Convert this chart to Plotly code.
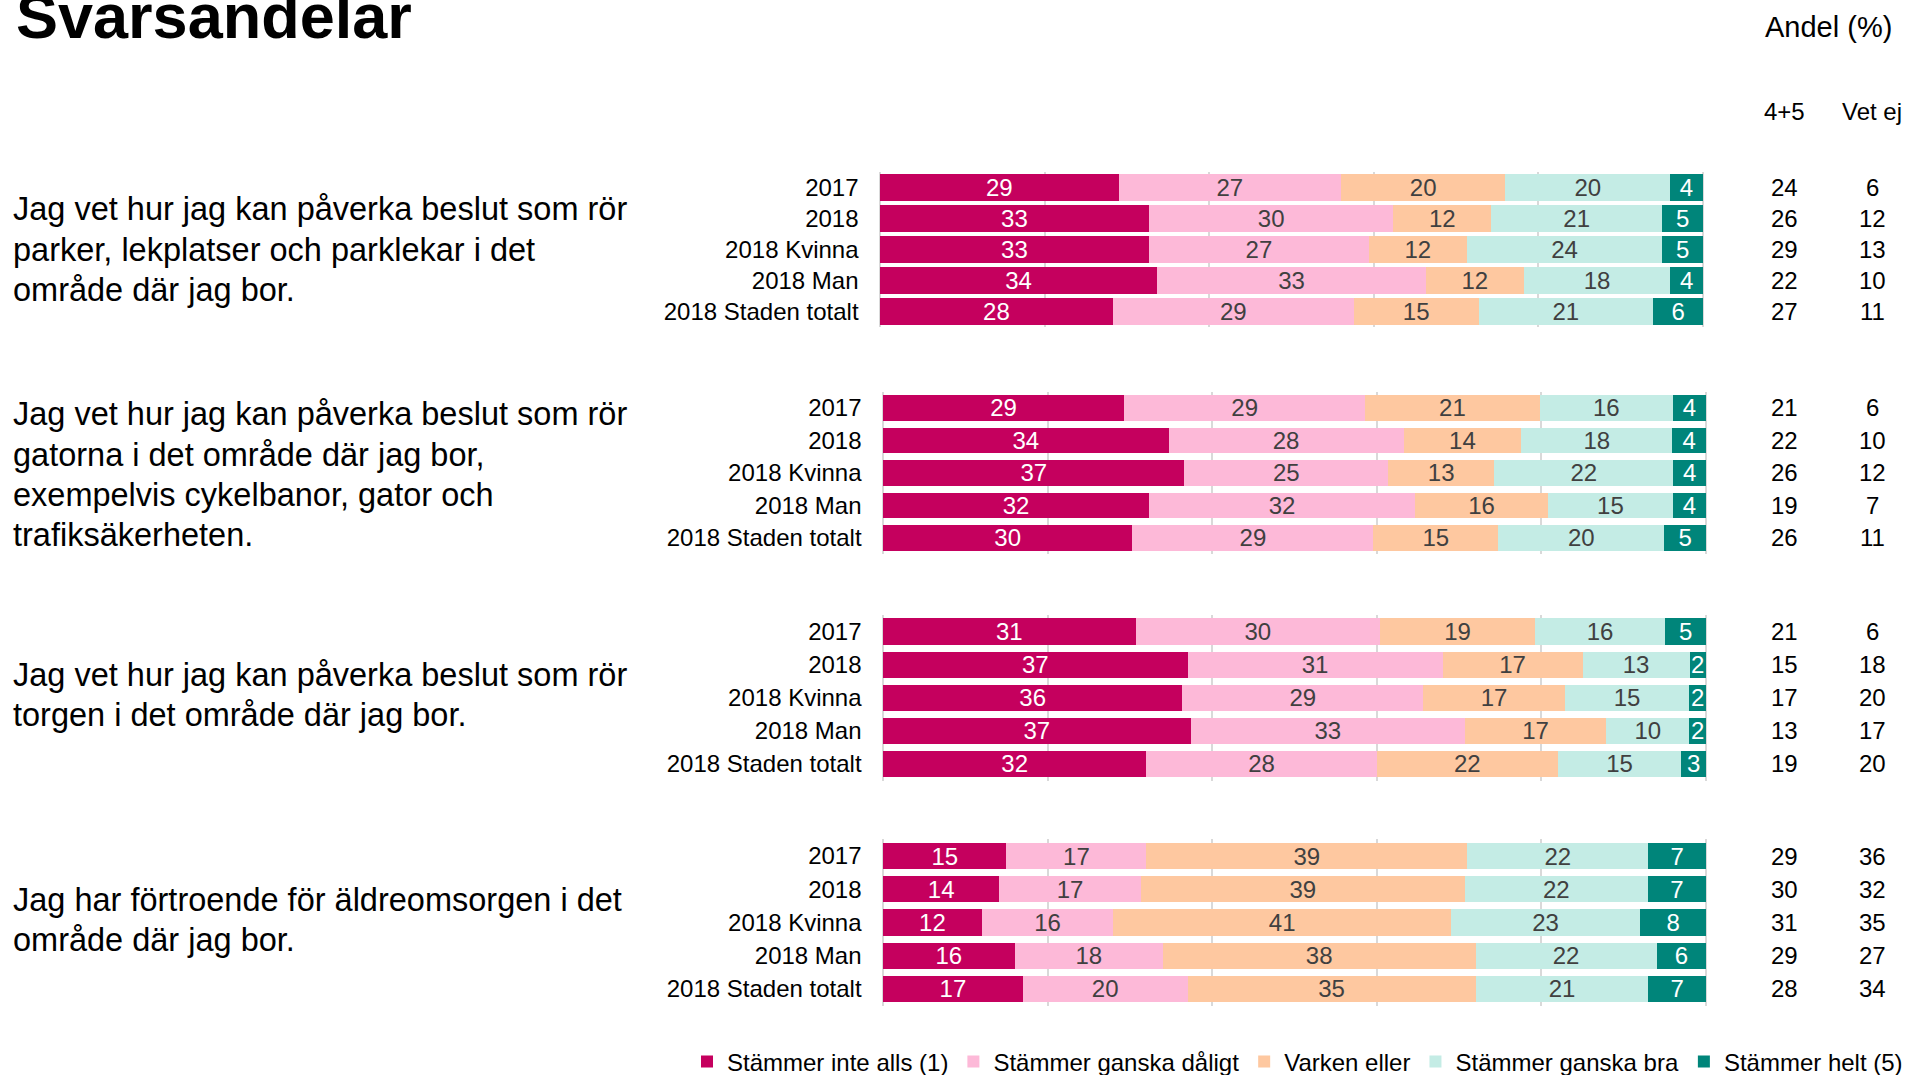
import plotly.graph_objects as go

W, H = 1908, 1075

categories = ["2017", "2018", "2018 Kvinna", "2018 Man", "2018 Staden totalt"]
series_names = ["Stämmer inte alls (1)", "Stämmer ganska dåligt", "Varken eller",
                "Stämmer ganska bra", "Stämmer helt (5)"]
series_colors = ["#C5005E", "#FDB9D8", "#FEC8A0", "#C4ECE5", "#00857A"]
label_colors = ["#FFFFFF", "#404040", "#404040", "#404040", "#FFFFFF"]

q1_lines = ["Jag vet hur jag kan påverka beslut som rör", "parker, lekplatser och parklekar i det",
            "område där jag bor."]
q2_lines = ["Jag vet hur jag kan påverka beslut som rör", "gatorna i det område där jag bor,",
            "exempelvis cykelbanor, gator och", "trafiksäkerheten."]
q3_lines = ["Jag vet hur jag kan påverka beslut som rör", "torgen i det område där jag bor."]
q4_lines = ["Jag har förtroende för äldreomsorgen i det", "område där jag bor."]

# rows: one per category, values per series
q1_rows = [[29, 27, 20, 20, 4], [33, 30, 12, 21, 5], [33, 27, 12, 24, 5], [34, 33, 12, 18, 4], [28, 29, 15, 21, 6]]
q2_rows = [[29, 29, 21, 16, 4], [34, 28, 14, 18, 4], [37, 25, 13, 22, 4], [32, 32, 16, 15, 4], [30, 29, 15, 20, 5]]
q3_rows = [[31, 30, 19, 16, 5], [37, 31, 17, 13, 2], [36, 29, 17, 15, 2], [37, 33, 17, 10, 2], [32, 28, 22, 15, 3]]
q4_rows = [[15, 17, 39, 22, 7], [14, 17, 39, 22, 7], [12, 16, 41, 23, 8], [16, 18, 38, 22, 6], [17, 20, 35, 21, 7]]

q1_sum45 = [24, 26, 29, 22, 27]
q2_sum45 = [21, 22, 26, 19, 26]
q3_sum45 = [21, 15, 17, 13, 19]
q4_sum45 = [29, 30, 31, 29, 28]

q1_vetej = [6, 12, 13, 10, 11]
q2_vetej = [6, 10, 12, 7, 11]
q3_vetej = [6, 18, 20, 17, 20]
q4_vetej = [36, 32, 35, 27, 34]

all_lines = [q1_lines, q2_lines, q3_lines, q4_lines]
all_rows = [q1_rows, q2_rows, q3_rows, q4_rows]
all_sum45 = [q1_sum45, q2_sum45, q3_sum45, q4_sum45]
all_vetej = [q1_vetej, q2_vetej, q3_vetej, q4_vetej]

FONT = "Liberation Sans, Arial, sans-serif"
panel_px = [  # (top, bottom, x of 0%, x of 100%)
    (172.0, 327.0, 880, 1703),
    (391.75, 554.0, 883, 1706),
    (615.0, 780.5, 883, 1706),
    (839.4, 1005.6, 883, 1706),
]
bar_widths = [0.85, 0.79, 0.79, 0.79]
line_px = [[207, 248, 288], [412.5, 452.6, 492.8, 533], [673, 713], [898, 938]]
PAD = 0.2

fig = go.Figure()
layout_axes = {}
annotations = []

for p in range(4):
    sfx = "" if p == 0 else str(p + 1)
    xa, ya = "x" + sfx, "y" + sfx
    rows = all_rows[p]
    for s in range(5):
        vals = [rows[c][s] for c in range(len(categories))]
        fig.add_trace(go.Bar(
            x=vals, y=categories, orientation="h",
            name=series_names[s], legendgroup=series_names[s], showlegend=(p == 0),
            marker=dict(color=series_colors[s], line=dict(width=0)),
            width=bar_widths[p],
            text=[str(v) for v in vals], textposition="inside", insidetextanchor="middle",
            textangle=0, constraintext="none",
            textfont=dict(color=label_colors[s], size=24, family=FONT),
            hoverinfo="skip",
            xaxis=xa, yaxis=ya,
        ))
    top, bot, x0, x100 = panel_px[p]
    unit = (x100 - x0) / 100.0
    dx0 = (x0 - PAD * unit) / W
    dx1 = (x100 + PAD * unit) / W
    layout_axes["xaxis" + sfx] = dict(
        domain=[dx0, dx1], range=[-PAD, 100 + PAD], anchor=ya,
        showticklabels=False, showgrid=True, gridcolor="#D9D9D9", gridwidth=2,
        tick0=0, dtick=20, zeroline=False, showline=False, fixedrange=True,
    )
    layout_axes["yaxis" + sfx] = dict(
        domain=[1 - bot / H, 1 - top / H], anchor=xa,
        type="category", categoryorder="array", categoryarray=categories,
        range=[len(categories) - 0.5, -0.5], autorange=False,
        showgrid=False, zeroline=False, showline=False,
        ticks="outside", ticklen=14, tickcolor="rgba(0,0,0,0)",
        tickfont=dict(size=24, color="#000000", family=FONT), fixedrange=True,
    )
    # question text, one annotation per line
    for li, line in enumerate(all_lines[p]):
        annotations.append(dict(
            text=line, xref="paper", yref="paper", x=11 / W, y=1 - (line_px[p][li] + 2) / H,
            xanchor="left", yanchor="middle", align="left", showarrow=False,
            font=dict(size=32.5, color="#000000", family=FONT),
        ))
    # right columns (category index on the subplot's y axis)
    for c in range(len(categories)):
        annotations.append(dict(
            text=str(all_sum45[p][c]), xref="paper", yref=ya, x=1784 / W, y=c,
            xanchor="center", yanchor="middle", showarrow=False,
            font=dict(size=24, color="#000000", family=FONT),
        ))
        annotations.append(dict(
            text=str(all_vetej[p][c]), xref="paper", yref=ya, x=1872 / W, y=c,
            xanchor="center", yanchor="middle", showarrow=False,
            font=dict(size=24, color="#000000", family=FONT),
        ))

# headers
annotations.append(dict(text="<b>Svarsandelar</b>", xref="paper", yref="paper", x=14 / W, y=1 - 16 / H,
                        xanchor="left", yanchor="middle", showarrow=False,
                        font=dict(size=63, color="#000000", family=FONT)))
annotations.append(dict(text="Andel (%)", xref="paper", yref="paper", x=1828 / W, y=1 - 27 / H,
                        xanchor="center", yanchor="middle", showarrow=False,
                        font=dict(size=29, color="#000000", family=FONT)))
annotations.append(dict(text="4+5", xref="paper", yref="paper", x=1784 / W, y=1 - 111 / H,
                        xanchor="center", yanchor="middle", showarrow=False,
                        font=dict(size=24, color="#000000", family=FONT)))
annotations.append(dict(text="Vet ej", xref="paper", yref="paper", x=1872 / W, y=1 - 111 / H,
                        xanchor="center", yanchor="middle", showarrow=False,
                        font=dict(size=24, color="#000000", family=FONT)))

fig.update_layout(
    width=W, height=H, autosize=False,
    margin=dict(l=0, r=0, t=0, b=0, pad=0, autoexpand=False),
    paper_bgcolor="#FFFFFF", plot_bgcolor="rgba(0,0,0,0)",
    barmode="stack", barnorm="percent",
    font=dict(family=FONT, size=24, color="#000000"),
    showlegend=True,
    legend=dict(orientation="h", x=1.0, xanchor="right", y=1 - 1062 / H, yanchor="middle",
                font=dict(size=24, family=FONT, color="#000000"),
                bgcolor="rgba(0,0,0,0)", traceorder="normal", itemwidth=30),
    annotations=annotations,
    **layout_axes,
)

fig.write_html(
    "out.html",
    config={"displayModeBar": False},
    post_script="document.body.style.margin='0';document.body.style.overflow='hidden';",
)
